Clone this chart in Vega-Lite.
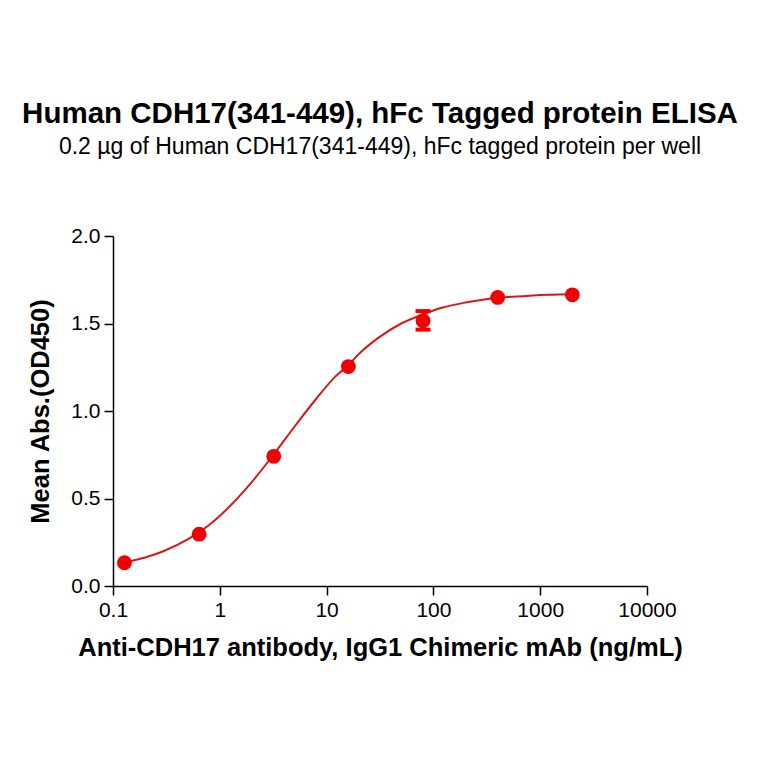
{
  "$schema": "https://vega.github.io/schema/vega-lite/v6.json",
  "autosize": {"type": "none"},
  "width": 534,
  "height": 350,
  "padding": {"left": 113, "top": 236, "right": 117, "bottom": 178},
  "background": "white",
  "title": {
    "text": "Human CDH17(341-449), hFc Tagged protein ELISA",
    "subtitle": "0.2 µg of Human CDH17(341-449), hFc tagged protein per well",
    "anchor": "middle",
    "font": "Liberation Sans",
    "fontSize": 29.5,
    "fontWeight": "bold",
    "color": "black",
    "subtitleFont": "Liberation Sans",
    "subtitleFontSize": 23,
    "subtitleColor": "black",
    "subtitlePadding": 7,
    "offset": 65
  },
  "datasets": {
    "points": [
      {"conc": 0.128, "od": 0.133},
      {"conc": 0.64, "od": 0.296},
      {"conc": 3.2, "od": 0.741},
      {"conc": 16, "od": 1.254},
      {"conc": 80, "od": 1.516},
      {"conc": 400, "od": 1.649},
      {"conc": 2000, "od": 1.664}
    ],
    "errors": [
      {"conc": 80, "lo": 1.465, "hi": 1.571}
    ],
    "curve": [
      {"conc": 0.128, "od": 0.135},
      {"conc": 0.2, "od": 0.163},
      {"conc": 0.3, "od": 0.2},
      {"conc": 0.5, "od": 0.266},
      {"conc": 0.8, "od": 0.35},
      {"conc": 1.2, "od": 0.447},
      {"conc": 2, "od": 0.595},
      {"conc": 3, "od": 0.73},
      {"conc": 5, "od": 0.91},
      {"conc": 8, "od": 1.07},
      {"conc": 12, "od": 1.195},
      {"conc": 16, "od": 1.262},
      {"conc": 20, "od": 1.325},
      {"conc": 30, "od": 1.415},
      {"conc": 50, "od": 1.5},
      {"conc": 80, "od": 1.552},
      {"conc": 120, "od": 1.59},
      {"conc": 200, "od": 1.62},
      {"conc": 300, "od": 1.637},
      {"conc": 500, "od": 1.651},
      {"conc": 800, "od": 1.659},
      {"conc": 1200, "od": 1.664},
      {"conc": 2000, "od": 1.667}
    ]
  },
  "encoding": {
    "x": {
      "field": "conc",
      "type": "quantitative",
      "scale": {"type": "log", "domain": [0.1, 10000], "nice": false},
      "axis": {
        "values": [0.1, 1, 10, 100, 1000, 10000],
        "format": "~g",
        "title": "Anti-CDH17 antibody, IgG1 Chimeric mAb (ng/mL)",
        "titlePadding": 15
      }
    },
    "y": {
      "field": "od",
      "type": "quantitative",
      "scale": {"domain": [0, 2], "nice": false},
      "axis": {
        "values": [0, 0.5, 1, 1.5, 2],
        "format": ".1f",
        "title": "Mean Abs.(OD450)",
        "titlePadding": 17
      }
    }
  },
  "layer": [
    {
      "data": {"name": "curve"},
      "mark": {"type": "line", "color": "#d81818", "strokeWidth": 2, "interpolate": "monotone"}
    },
    {
      "data": {"name": "errors"},
      "mark": {"type": "rule", "color": "#f00000", "strokeWidth": 3},
      "encoding": {
        "y": {"field": "lo", "type": "quantitative"},
        "y2": {"field": "hi"}
      }
    },
    {
      "data": {"name": "errors"},
      "mark": {"type": "tick", "color": "#f00000", "orient": "horizontal", "size": 15, "thickness": 4, "opacity": 1},
      "encoding": {
        "y": {"field": "lo", "type": "quantitative"}
      }
    },
    {
      "data": {"name": "errors"},
      "mark": {"type": "tick", "color": "#f00000", "orient": "horizontal", "size": 15, "thickness": 4, "opacity": 1},
      "encoding": {
        "y": {"field": "hi", "type": "quantitative"}
      }
    },
    {
      "data": {"name": "points"},
      "mark": {"type": "circle", "color": "#f00000", "size": 220, "opacity": 1}
    }
  ],
  "config": {
    "view": {"stroke": null},
    "font": "Liberation Sans",
    "axis": {
      "grid": false,
      "domainColor": "black",
      "domainWidth": 1.5,
      "tickColor": "black",
      "tickWidth": 1.5,
      "tickSize": 9,
      "labelColor": "black",
      "labelFont": "Liberation Sans",
      "labelFontSize": 21,
      "labelPadding": 4,
      "titleColor": "black",
      "titleFont": "Liberation Sans",
      "titleFontSize": 25.5,
      "titleFontWeight": "bold"
    },
    "axisX": {"labelFlush": false, "labelOverlap": false},
    "axisY": {"labelOverlap": false}
  }
}
